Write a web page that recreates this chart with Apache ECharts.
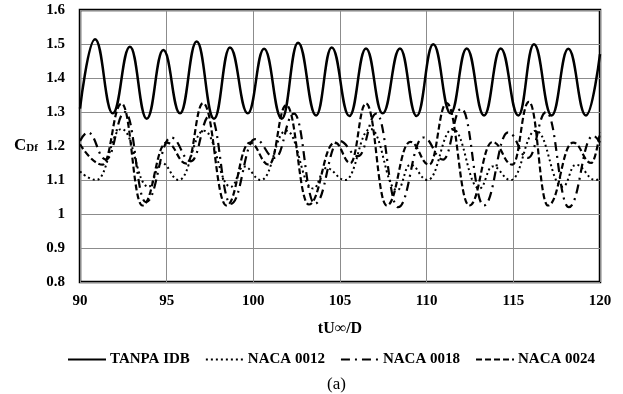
<!DOCTYPE html>
<html>
<head>
<meta charset="utf-8">
<script src="https://cdn.jsdelivr.net/npm/echarts@6/dist/echarts.min.js"></script>
<style>html,body{margin:0;padding:0;background:#fff;}#c{width:623px;height:394px;}</style>
</head>
<body>
<div id="c"></div>
<script>
// TANPA IDB
const tanpaX = [90, 90.87, 91.89, 92.88, 93.85, 94.81, 95.77, 96.73, 97.73, 98.65, 99.68, 100.62, 101.64, 102.58, 103.62, 104.52, 105.54, 106.5, 107.46, 108.46, 109.42, 110.38, 111.38, 112.31, 113.31, 114.27, 115.29, 116.19, 117.21, 118.17, 119.19, 120];
const tanpaY = [1.31, 1.514, 1.296, 1.492, 1.28, 1.482, 1.296, 1.507, 1.28, 1.49, 1.296, 1.486, 1.28, 1.504, 1.29, 1.49, 1.288, 1.487, 1.296, 1.487, 1.288, 1.499, 1.296, 1.487, 1.29, 1.487, 1.29, 1.499, 1.29, 1.486, 1.29, 1.47];
// NACA 0012 (dotted)
const n12X = [90, 90.95, 92.4, 93.95, 94.7, 95.7, 97.15, 98.7, 99.45, 100.45, 101.9, 103.45, 104.2, 105.3, 106.75, 108.3, 109.05, 110.05, 111.5, 113.05, 113.8, 114.85, 116.3, 117.85, 118.6, 119.75, 120];
const n12Y = [1.125, 1.10, 1.25, 1.08, 1.15, 1.10, 1.245, 1.08, 1.14, 1.10, 1.245, 1.075, 1.135, 1.10, 1.25, 1.07, 1.145, 1.10, 1.25, 1.075, 1.14, 1.10, 1.245, 1.08, 1.145, 1.10, 1.105];
// NACA 0018 (dash-dot)
const n18X = [90, 90.45, 91.5, 92.6, 93.8, 95.25, 96.4, 97.5, 98.7, 100.1, 101.25, 102.35, 103.55, 104.95, 106.05, 107.1, 108.35, 109.8, 110.95, 112.0, 113.3, 114.7, 115.85, 116.9, 118.2, 119.6, 120];
const n18Y = [1.215, 1.24, 1.16, 1.30, 1.035, 1.225, 1.155, 1.29, 1.03, 1.22, 1.165, 1.295, 1.03, 1.215, 1.17, 1.295, 1.02, 1.225, 1.16, 1.31, 1.025, 1.24, 1.165, 1.30, 1.02, 1.23, 1.21];
// NACA 0024 (dashed)
const n24X = [90, 91.3, 92.4, 93.6, 95.0, 96.15, 97.1, 98.45, 99.8, 100.9, 101.9, 103.2, 104.7, 105.6, 106.5, 107.7, 109.05, 110.15, 111.15, 112.46, 113.8, 114.95, 115.9, 117.0, 118.45, 119.5, 120];
const n24Y = [1.205, 1.145, 1.325, 1.025, 1.21, 1.148, 1.326, 1.025, 1.21, 1.145, 1.32, 1.028, 1.21, 1.15, 1.325, 1.025, 1.212, 1.145, 1.326, 1.025, 1.212, 1.145, 1.33, 1.025, 1.21, 1.15, 1.24];

const seriesNames = ['TANPA IDB', 'NACA 0012', 'NACA 0018', 'NACA 0024'];
const xTicks = {min: 90, max: 120, interval: 5};
const yTicks = {min: 0.8, max: 1.6, interval: 0.1};

function pairs(xs, ys) { return xs.map((x, i) => [x, ys[i]]); }

const font = '"Liberation Serif", "Times New Roman", serif';
const chart = echarts.init(document.getElementById('c'));
const lineCommon = {type: 'line', symbol: 'none', smooth: 0.45, smoothMonotone: 'x', animation: false};
chart.setOption({
  animation: false,
  backgroundColor: '#fff',
  grid: {left: 80, right: 23, top: 10, bottom: 112, show: true, borderColor: '#000', borderWidth: 2.5, backgroundColor: 'transparent'},
  xAxis: {
    type: 'value', min: xTicks.min, max: xTicks.max, interval: xTicks.interval,
    name: 'tU\u221e/D', nameLocation: 'middle', nameGap: 39,
    nameTextStyle: {fontFamily: font, fontWeight: 'bold', fontSize: 16, color: '#000'},
    axisLine: {show: false}, axisTick: {show: false},
    axisLabel: {fontFamily: font, fontWeight: 'bold', fontSize: 15, color: '#000', margin: 12},
    splitLine: {show: true, lineStyle: {color: '#8c8c8c', width: 1}}
  },
  yAxis: {
    type: 'value', min: yTicks.min, max: yTicks.max, interval: yTicks.interval,
    axisLine: {show: false}, axisTick: {show: false},
    axisLabel: {fontFamily: font, fontWeight: 'bold', fontSize: 15, color: '#000', margin: 15,
      formatter: v => String(Math.round(v * 10) / 10)},
    splitLine: {show: true, lineStyle: {color: '#8c8c8c', width: 1}}
  },
  legend: {
    data: seriesNames, left: 62, top: 347, itemWidth: 38, itemHeight: 12, itemGap: 15,
    itemStyle: {opacity: 0},
    textStyle: {fontFamily: font, fontWeight: 'bold', fontSize: 15, color: '#000', padding: [0, 0, 0, -1]}
  },
  graphic: [
    {type: 'text', left: 14, top: 137, style: {
      text: '{c|C}{s|Df}', fill: '#000',
      rich: {c: {fontFamily: font, fontWeight: 'bold', fontSize: 17, fill: '#000'},
             s: {fontFamily: font, fontWeight: 'bold', fontSize: 11, fill: '#000', verticalAlign: 'bottom', padding: [6, 0, 0, 0]}}
    }},
    {type: 'text', left: 327, top: 376, style: {text: '(a)', fontFamily: font, fontSize: 17, fill: '#000'}}
  ],
  series: [
    Object.assign({}, lineCommon, {name: seriesNames[0], data: pairs(tanpaX, tanpaY), lineStyle: {color: '#000', width: 2.5, type: 'solid'}, itemStyle: {color: '#000'}}),
    Object.assign({}, lineCommon, {name: seriesNames[1], data: pairs(n12X, n12Y), lineStyle: {color: '#000', width: 2, type: [2, 3]}, itemStyle: {color: '#000'}}),
    Object.assign({}, lineCommon, {name: seriesNames[2], data: pairs(n18X, n18Y), lineStyle: {color: '#000', width: 2.2, type: [9, 5, 2, 5]}, itemStyle: {color: '#000'}}),
    Object.assign({}, lineCommon, {name: seriesNames[3], data: pairs(n24X, n24Y), lineStyle: {color: '#000', width: 2.2, type: [6, 3]}, itemStyle: {color: '#000'}})
  ]
});
</script>
</body>
</html>
